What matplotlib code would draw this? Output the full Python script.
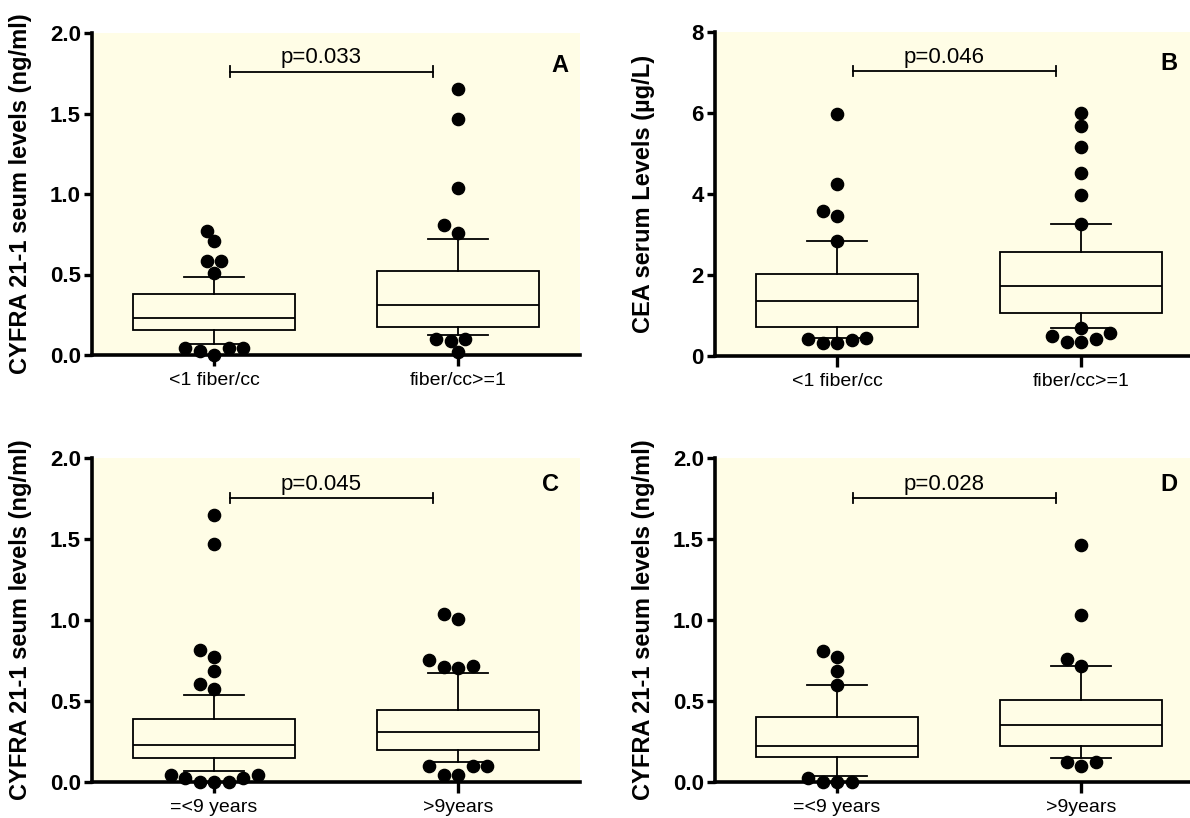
import numpy as np
import matplotlib
matplotlib.use('Agg')
import matplotlib.pyplot as plt

plt.rcParams['font.family'] = ['Liberation Sans', 'DejaVu Sans']

BG = '#fffde6'

# ---- data ----
fiber_groups = ['<1 fiber/cc', 'fiber/cc>=1']
age_groups = ['=<9 years', '>9years']

# panel A: CYFRA 21-1 by fiber exposure (q1, median, q3, whisker low, whisker high)
a_box1 = [0.155, 0.228, 0.379, 0.068, 0.482]
a_box2 = [0.176, 0.311, 0.520, 0.126, 0.720]
a_dots1 = [0.772, 0.706, 0.582, 0.582, 0.507, 0.046, 0.046, 0.0, 0.025, 0.046]
a_dots2 = [1.654, 1.468, 1.037, 0.807, 0.760, 0.099, 0.089, 0.099, 0.021]

# panel B: CEA by fiber exposure
b_box1 = [0.725, 1.36, 2.03, 0.453, 2.85]
b_box2 = [1.07, 1.73, 2.58, 0.70, 3.26]
b_dots1 = [5.98, 4.24, 3.59, 3.46, 2.85, 0.45, 0.395, 0.313, 0.313, 0.42]
b_dots2 = [6.0, 5.68, 5.17, 4.51, 3.98, 3.26, 0.70, 0.577, 0.42, 0.34, 0.354, 0.494]

# panel C: CYFRA 21-1 by years of exposure
c_box1 = [0.148, 0.226, 0.389, 0.066, 0.539]
c_box2 = [0.200, 0.311, 0.444, 0.123, 0.673]
c_dots1 = [1.650, 1.467, 0.817, 0.770, 0.683, 0.605, 0.576,
           0.045, 0.025, 0.0, 0.0, 0.0, 0.025, 0.045]
c_dots2 = [1.037, 1.008, 0.755, 0.708, 0.704, 0.718, 0.097, 0.097, 0.045, 0.045, 0.097]

# panel D: CYFRA 21-1 by years of exposure
d_box1 = [0.152, 0.224, 0.401, 0.035, 0.599]
d_box2 = [0.220, 0.354, 0.508, 0.148, 0.714]
d_dots1 = [0.811, 0.772, 0.683, 0.601, 0.0, 0.0, 0.0, 0.025]
d_dots2 = [1.465, 1.033, 0.759, 0.718, 0.123, 0.097, 0.123]

pvals = ['p=0.033', 'p=0.046', 'p=0.045', 'p=0.028']
letters = ['A', 'B', 'C', 'D']
ylabel_cyfra = 'CYFRA 21-1 seum levels (ng/ml)'
ylabel_cea = 'CEA serum Levels (µg/L)'


def swarm(ax, xc, vals, step=7.25, mind=12.5):
    # simple beeswarm in pixel space, returns x positions in data units
    tr = ax.transData
    px_per_x = tr.transform((1, 0))[0] - tr.transform((0, 0))[0]
    ypix = [tr.transform((0, v))[1] for v in vals]
    order = np.argsort(vals)
    placed = []
    xs = np.zeros(len(vals))
    cands = [0]
    for j in range(1, 30):
        cands += [-j, j]
    for i in order:
        for k in cands:
            ox = k * step
            ok = all(np.hypot(ox - px, ypix[i] - py) >= mind for px, py in placed)
            if ok:
                break
        placed.append((ox, ypix[i]))
        xs[i] = xc + ox / px_per_x
    return xs


def panel(rect, boxes, dots, labels, ylab, ymax, yticks, yfmt, bracket_y, ptext, letter, letter_xy):
    ax = fig.add_axes(rect)
    ax.set_facecolor(BG)
    ax.set_xlim(0.5, 2.5)
    ax.set_ylim(0, ymax)

    stats = []
    for b in boxes:
        stats.append(dict(q1=b[0], med=b[1], q3=b[2], whislo=b[3], whishi=b[4], fliers=[]))
    ax.bxp(stats, positions=[1, 2], widths=0.666, capwidths=0.245, showfliers=False,
           patch_artist=True,
           boxprops=dict(facecolor=BG, edgecolor='black', linewidth=1.3),
           medianprops=dict(color='black', linewidth=1.3),
           whiskerprops=dict(color='black', linewidth=1.3),
           capprops=dict(color='black', linewidth=1.3))

    for xc, d in zip([1, 2], dots):
        xs = swarm(ax, xc, d)
        ax.plot(xs, d, 'o', color='black', markersize=8.8, clip_on=False, zorder=5)

    # significance bracket
    ax.plot([1.066, 1.897], [bracket_y, bracket_y], color='black', lw=1.3)
    cap = ymax * 0.016
    for xe in [1.066, 1.897]:
        ax.plot([xe, xe], [bracket_y - cap, bracket_y + cap], color='black', lw=1.3)
    ax.text(1.44, bracket_y + ymax * 0.01, ptext, ha='center', va='bottom', fontsize=16)
    ax.text(letter_xy[0], letter_xy[1], letter, ha='center', va='center',
            fontsize=17, fontweight='bold')

    for s in ['top', 'right']:
        ax.spines[s].set_visible(False)
    for s in ['left', 'bottom']:
        ax.spines[s].set_linewidth(2.6)

    ax.set_xticks([1, 2])
    ax.set_xticklabels(labels, fontsize=14)
    ax.set_yticks(yticks)
    ax.set_yticklabels([yfmt.format(t) for t in yticks], fontsize=16, fontweight='bold')
    ax.tick_params(axis='y', direction='out', width=2.4, length=6, pad=2)
    ax.tick_params(axis='x', direction='out', width=2.4, length=8, pad=4)
    ax.set_ylabel(ylab, fontsize=17, fontweight='bold')
    ax.yaxis.set_label_coords(-0.123, 0.5)
    return ax


fig = plt.figure(figsize=(11.9, 8.18), dpi=100)

cyfra_ticks = [0.0, 0.5, 1.0, 1.5, 2.0]
cea_ticks = [0, 2, 4, 6, 8]

panel([92 / 1190, 1 - 355 / 818, 488 / 1190, 322 / 818], [a_box1, a_box2], [a_dots1, a_dots2],
      fiber_groups, ylabel_cyfra, 2.0, cyfra_ticks, '{:.1f}', 1.76, pvals[0], letters[0], (2.417, 1.797))
panel([715 / 1190, 1 - 356 / 818, 488 / 1190, 324 / 818], [b_box1, b_box2], [b_dots1, b_dots2],
      fiber_groups, ylabel_cea, 8.0, cea_ticks, '{:.0f}', 7.03, pvals[1], letters[1], (2.36, 7.23))
panel([92 / 1190, 1 - 782 / 818, 488 / 1190, 324 / 818], [c_box1, c_box2], [c_dots1, c_dots2],
      age_groups, ylabel_cyfra, 2.0, cyfra_ticks, '{:.1f}', 1.753, pvals[2], letters[2], (2.378, 1.835))
panel([715 / 1190, 1 - 782 / 818, 488 / 1190, 324 / 818], [d_box1, d_box2], [d_dots1, d_dots2],
      age_groups, ylabel_cyfra, 2.0, cyfra_ticks, '{:.1f}', 1.753, pvals[3], letters[3], (2.36, 1.835))

fig.savefig('out.png', dpi=100)
